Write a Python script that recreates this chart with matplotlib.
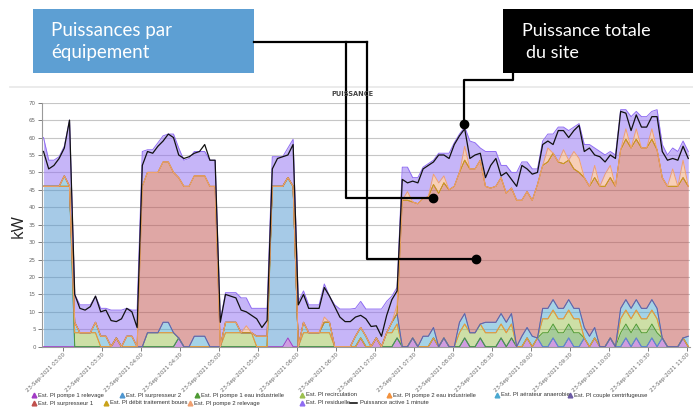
import numpy as np
import pandas as pd
import matplotlib
matplotlib.use('Agg')
import matplotlib.pyplot as plt
import matplotlib.dates as mdates
from matplotlib.patches import Rectangle

# samples every 4 minutes, 23 Sep 2021 02:45 -> 11:01
times = pd.date_range('2021-09-23 02:45', periods=125, freq='4min')

# black line: Puissance active 1 minute (kW)
total = [56, 51, 52, 54, 57, 65, 15, 11, 10.5, 11.5,
         14.5, 10, 10.5, 7.5, 7.2, 8, 11, 10, 5.5, 52,
         56, 55.5, 57.5, 59, 61, 60, 55, 54, 54.5, 55.5,
         56, 58, 53.5, 53.5, 7, 15, 14.5, 14, 10.5, 10,
         9, 8, 5.5, 7.5, 51, 54, 54.5, 55, 58, 12,
         15, 11, 11, 11, 17, 14.5, 11.5, 8.5, 7.2, 7.2,
         8.5, 9, 8, 5.8, 6, 3, 9, 13.5, 16, 48,
         47, 47.5, 47, 51, 52, 53, 55, 55, 54, 58,
         60.5, 62.5, 54, 55, 55.5, 48.5, 52, 54, 49, 50,
         48, 46, 52, 51, 49.5, 50, 58, 59, 58, 62,
         62, 60, 62, 63.5, 56, 57, 55, 54.5, 53, 55,
         54, 67.5, 67, 62, 66.5, 63, 63, 66, 66, 56,
         53.5, 54, 53.5, 57.5, 54]

# top of the stacked areas
stack_top = [60, 53.5, 53.5, 54.5, 57.5, 65, 15, 12, 12, 12,
             14.5, 11, 11, 10.5, 10.5, 10.5, 11, 10.5, 10.5, 56,
             56.5, 56.5, 58.5, 60.5, 61, 61, 57, 53.5, 54, 56,
             56, 56, 53.5, 53.5, 7.5, 15.5, 15.5, 15.5, 14, 14,
             11, 11, 11, 11, 54.5, 54.5, 54.5, 57, 59.5, 13,
             16, 12, 12, 12, 18, 14.5, 12, 10.8, 10.8, 10.8,
             11, 13, 10.8, 10.8, 10.8, 10.8, 13, 14.5, 17, 51.5,
             51.5, 48.5, 48.5, 51.5, 52.5, 53.5, 55.5, 55.5, 55.5, 58.5,
             61, 63, 59, 58.5, 57, 56, 56, 56, 52, 52,
             50, 50, 53, 53, 51, 51, 59, 61, 61, 63,
             63, 62, 63, 64, 58, 58, 57, 56, 55, 56,
             55, 68, 68, 66, 67.5, 66, 66, 67.5, 68, 58,
             55, 57, 56, 59, 56]

p1_relevage = [0, 0, 0, 0, 0, 0, 0, 0, 0, 0,
               0, 0, 0, 0, 2.5, 0, 0, 0, 0, 0,
               0, 0, 0, 0, 0, 0, 2.5, 0, 0, 0,
               0, 0, 0, 0, 0, 0, 0, 0, 0, 0,
               0, 0, 0, 0, 0, 0, 0, 2.5, 0, 0,
               0, 0, 0, 0, 0, 0, 0, 0, 0, 0,
               0, 2.5, 0, 0, 2.5, 0, 0, 0, 2.5, 0,
               0, 2.5, 0, 0, 0, 2.5, 0, 2.5, 0, 0,
               0, 2.5, 0, 0, 2.5, 0, 0, 0, 2.5, 0,
               2.5, 0, 0, 2.5, 0, 2.5, 0, 0, 2.5, 0,
               0, 2.5, 0, 0, 2.5, 0, 2.5, 0, 0, 2.5,
               0, 0, 2.5, 0, 2.5, 0, 0, 2.5, 0, 2.5,
               0, 0, 0, 2.5, 0]
surpresseur2 = [46] * 6 + [0] * 38 + [46] * 5 + [0] * 76
p1_eau_ind = [0] * 96 + [4] * 8 + [0] * 7 + [4] * 8 + [0] * 6
recirculation = ([0] * 6 + [4] * 5 + [0] * 9 + [4] * 6 + [0] * 9 + [4] * 6
                 + [0] * 9 + [4] * 6 + [0] * 10 + [4] * 3 + [0] * 11 + [4] * 11
                 + [0] * 5 + [4] * 8 + [0] * 7 + [4] * 8 + [0] * 6)
p2_eau_ind = [0] * 125
aerateur = [0, 0, 0, 0, 3, 0, 3, 0, 0, 0,
            3, 3, 3, 0, 0, 0, 3, 3, 0, 0,
            0, 0, 0, 3, 3, 0, 0, 0, 0, 3,
            3, 3, 0, 0, 0, 3, 3, 3, 0, 0,
            0, 3, 3, 3, 0, 0, 0, 0, 0, 0,
            3, 0, 0, 0, 3, 3, 0, 0, 0, 0,
            3, 3, 3, 0, 0, 0, 0, 3, 3, 0,
            0, 0, 0, 3, 3, 3, 0, 0, 0, 0,
            3, 3, 0, 0, 0, 3, 3, 3, 3, 3,
            3, 0, 3, 3, 3, 0, 3, 3, 3, 3,
            3, 3, 3, 3, 3, 3, 3, 0, 0, 0,
            0, 3, 3, 3, 3, 3, 3, 3, 3, 0,
            0, 0, 0, 0, 3]
centrifugeuse = [0] * 125
surpresseur1 = [0, 0, 0, 0, 0, 0, 0, 0, 0, 0,
                0, 0, 0, 0, 0, 0, 0, 0, 0, 46,
                46, 46, 46, 46, 46, 46, 46, 46, 46, 46,
                46, 46, 46, 46, 0, 0, 0, 0, 0, 0,
                0, 0, 0, 0, 0, 0, 0, 0, 0, 0,
                0, 0, 0, 0, 0, 0, 0, 0, 0, 0,
                0, 0, 0, 0, 0, 0, 0, 0, 0, 42,
                42, 39, 41, 39.5, 40, 41, 44, 44.5, 45, 46,
                43, 44, 47, 47, 47, 39, 38.5, 39, 39, 37,
                36, 42, 39, 39, 39, 44, 41, 42, 42, 42,
                41.5, 40, 40, 39, 43, 43, 43, 46, 46, 46,
                46, 45.5, 46, 46, 46, 46, 46, 46, 45.5, 46,
                46, 46, 46, 46, 43]
debit_boues = [0] * 125
p2_relevage = [0, 0, 0, 0, 0, 0, 0, 0, 0, 0,
               0, 0, 0, 0, 0, 0, 0, 0, 0, 0,
               0, 0, 0, 0, 0, 0, 0, 0, 0, 0,
               0, 0, 0, 0, 0, 0, 0, 0, 0, 2,
               0, 0, 0, 0, 0, 0, 0, 0, 0, 0,
               0, 0, 0, 0, 1.5, 0, 0, 0, 0, 0,
               0, 0, 0, 0, 0, 0, 0, 0, 2.5, 0,
               2.5, 0, 0, 0, 0, 3, 3, 2, 0, 0,
               0, 4, 0, 0, 0, 0, 0, 0, 0, 0,
               0, 0, 0, 0, 0, 0, 0, 4, 0, 0,
               4, 0, 5, 4, 0, 0, 3.5, 0, 3.5, 3.5,
               0, 0, 3, 0, 3, 0, 0, 3, 0, 0,
               0, 5, 0, 5, 0]

labels = ['Est. PI pompe 1 relevage', 'Est. PI surpresseur 2',
          'Est. PI pompe 1 eau industrielle', 'Est. PI recirculation',
          'Est. PI pompe 2 eau industrielle', 'Est. PI aérateur anaerobie',
          'Est. PI couple centrifugeuse', 'Est. PI surpresseur 1',
          'Est. PI débit traitement boues', 'Est. PI pompe 2 relevage',
          'Est. PI residuelle']
colors = ['#a23bc5', '#4e96d0', '#4e9a34', '#9cc04f', '#f2913d', '#4aa8d0',
          '#6c5ba5', '#c0504d', '#c9a21a', '#f0a070', '#8f6cf2']

series = [p1_relevage, surpresseur2, p1_eau_ind, recirculation, p2_eau_ind,
          aerateur, centrifugeuse, surpresseur1, debit_boues, p2_relevage]
series = [np.asarray(s, dtype=float) for s in series]
residuelle = np.clip(np.asarray(stack_top) - np.sum(series, axis=0), 0, None)
series.append(residuelle)

W, H = 693, 409
fig = plt.figure(figsize=(W / 100, H / 100), dpi=100)
ax = fig.add_axes([42 / W, 1 - 346.7 / H, 648 / W, 244 / H])

base = np.zeros(len(times))
for vals, col in zip(series, colors):
    top = base + vals
    ax.fill_between(times, base, top, color=col, alpha=0.5, lw=0, zorder=2)
    ax.plot(times, top, color=col, lw=0.7, zorder=3)
    base = top
ax.plot(times, total, color='#111111', lw=0.9, zorder=5)

ax.set_ylim(0, 70)
ax.set_xlim(pd.Timestamp('2021-09-23 02:43:50'), pd.Timestamp('2021-09-23 11:02:20'))
ax.set_yticks(range(0, 75, 5))
ax.yaxis.grid(True, color='#c6c6c6', lw=0.8)
ax.set_axisbelow(True)
ax.xaxis.set_major_locator(mdates.MinuteLocator(byminute=[0, 30]))
ax.xaxis.set_major_formatter(mdates.DateFormatter('%d-%b-%Y %H:%M'))
ax.tick_params(axis='x', labelsize=4, colors='#666666', length=3, pad=1, width=0.6)
ax.tick_params(axis='y', labelsize=4, colors='#666666', length=3, pad=1.5, width=0.6)
plt.setp(ax.get_xticklabels(), rotation=45, ha='right', rotation_mode='anchor')
for s in ['top', 'right']:
    ax.spines[s].set_visible(False)
for s in ['left', 'bottom']:
    ax.spines[s].set_color('#9a9a9a')
    ax.spines[s].set_linewidth(0.8)

# overlay in pixel coordinates for the annotations and legend
ov = fig.add_axes([0, 0, 1, 1], zorder=10)
ov.set_xlim(0, W)
ov.set_ylim(H, 0)
ov.axis('off')

ov.plot([10, W], [87, 87], color='#e8e8e8', lw=1.2)
ov.text(352, 94, 'PUISSANCE', fontsize=4.8, weight='bold', color='#444444',
        ha='center', va='center')
ov.text(19, 226, 'kW', rotation=90, fontsize=12, ha='center', va='center',
        family='Open Sans', color='#222222')

ov.add_patch(Rectangle((33, 9), 221, 64, color='#5d9fd3', lw=0))
ov.text(51, 36, 'Puissances par', color='white', fontsize=13.5, family='Lato')
ov.text(51, 58, 'équipement', color='white', fontsize=13.5, family='Lato')
ov.add_patch(Rectangle((503, 9), 190, 64, color='black', lw=0))
ov.text(522, 36, 'Puissance totale', color='white', fontsize=13, family='Lato')
ov.text(526, 58, 'du site', color='white', fontsize=13, family='Lato')

ov.plot([254, 367], [42, 42], color='black', lw=1.6)
ov.plot([346, 346, 433], [42, 198, 198], color='black', lw=1.6)
ov.plot([367, 367, 476], [42, 259, 259], color='black', lw=1.6)
ov.plot([513, 513, 464, 464], [73, 80, 80, 124], color='black', lw=1.6)
ov.plot([433, 476, 464], [198, 259, 124], 'o', color='black', ms=6)

# legend, two rows as in the dashboard
leg_x = [34, 122, 197, 302, 389, 497, 570, 34, 106, 190, 302]
leg_y = [395] * 7 + [403] * 4
for x, y, lab, col in zip(leg_x, leg_y, labels, colors):
    ov.plot([x], [y], marker='^', ms=3.4, color=col, mec=col)
    ov.text(x + 4, y, lab, fontsize=4.2, color='#333333', va='center',
            family='Liberation Sans')
ov.plot([350, 357], [403, 403], color='black', lw=1.1)
ov.text(360, 403, 'Puissance active 1 minute', fontsize=4.2, color='#333333',
        va='center', family='Liberation Sans')

fig.savefig('out.png', dpi=100)
